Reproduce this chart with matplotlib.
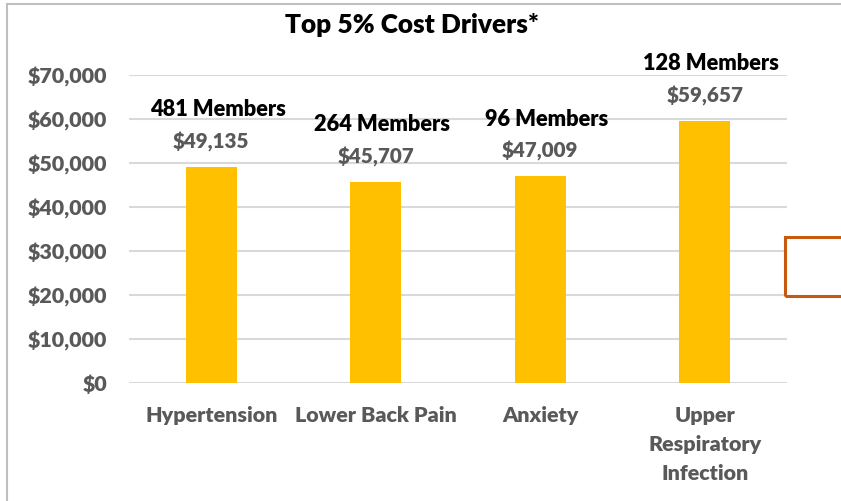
import matplotlib
matplotlib.use("Agg")
import matplotlib.pyplot as plt
from matplotlib.patches import Rectangle

categories = ["Hypertension", "Lower Back Pain", "Anxiety", "Upper\nRespiratory\nInfection"]
costs = [49135, 45707, 47009, 59657]
members = [481, 264, 96, 128]
yticks = [0, 10000, 20000, 30000, 40000, 50000, 60000, 70000]
title = "Top 5% Cost Drivers*"

W, H = 841, 501
plt.rcParams['font.family'] = ['Lato', 'DejaVu Sans']
WEIGHT = "heavy"
fig = plt.figure(figsize=(W / 100, H / 100), dpi=100)
renderer = fig.canvas.get_renderer()


def fit(text, target_px):
    t = fig.text(0, 0, text, fontsize=10, fontweight=WEIGHT)
    w = t.get_window_extent(renderer).width
    t.remove()
    return 10 * target_px / w


fs_tick = fit("$70,000", 79)
fs_cat = fit("Hypertension", 133)
fs_mem = fit("481 Members", 137)
fs_val = fit("$49,135", 77)
fs_title = fit(title, 255)


def fx(px):
    return px / W


def fy(py):
    return 1 - py / H


ax = fig.add_axes([fx(129), fy(383), fx(787) - fx(129), fy(75) - fy(383)])
x = list(range(len(categories)))
ax.bar(x, costs, width=0.31, color="#FFC000", zorder=3)
ax.set_xlim(-0.5, len(categories) - 0.5)
ax.set_ylim(0, 70000)
ax.set_yticks(yticks)
ax.set_yticklabels([f"${v:,.0f}" for v in yticks], fontsize=fs_tick, fontweight=WEIGHT, color="#595959")
ax.set_xticks(x)
ax.set_xticklabels(categories, fontsize=fs_cat, fontweight=WEIGHT, color="#595959", linespacing=1.62)
ax.tick_params(axis="both", length=0)
ax.tick_params(axis="y", pad=15.5)
ax.tick_params(axis="x", pad=16.5)
for s in ax.spines.values():
    s.set_visible(False)
ax.grid(axis="y", color="#D9D9D9", linewidth=1.5, zorder=0)
ax.set_axisbelow(True)

for xi, c, m in zip(x, costs, members):
    ax.annotate(f"${c:,.0f}", (xi, c), xytext=(0, 18), textcoords="offset points",
                ha="center", va="center", fontsize=fs_val, fontweight=WEIGHT, color="#595959",
                annotation_clip=False)
    ax.annotate(f"{m} Members", (xi, c), xytext=(4.5, 41), textcoords="offset points",
                ha="center", va="center", fontsize=fs_mem, fontweight=WEIGHT, color="black",
                annotation_clip=False)

fig.text(fx(412), fy(25), title, ha="center", va="center", fontsize=fs_title, fontweight=WEIGHT, color="black")

# chart frame
fig.patches.append(Rectangle((fx(7), fy(520)), fx(900) - fx(7), fy(4) - fy(520),
                             transform=fig.transFigure, fill=False, edgecolor="#BFBFBF",
                             linewidth=1.5))
# partial orange box at right
fig.patches.append(Rectangle((fx(784.5), fy(295.5)), fx(900) - fx(784.5), fy(237) - fy(295.5),
                             transform=fig.transFigure, fill=False, edgecolor="#C55A11",
                             linewidth=2.2))

fig.savefig("out.png", dpi=100)
